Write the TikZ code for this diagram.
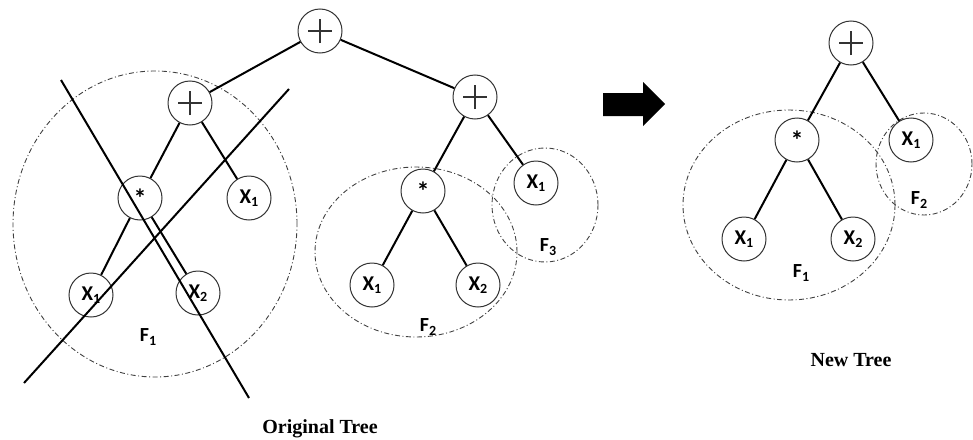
\documentclass[tikz,border=0pt]{standalone}
\usepackage{fontspec}
\setmainfont{Liberation Serif}
\newfontfamily\lblfont{Carlito}
\newcommand\sym[2]{#1\raisebox{-0.35ex}{\fontsize{14}{14}\selectfont #2}}
\newcommand\mul{{\fontsize{26}{26}\selectfont\raisebox{-0.25ex}{*}}}
\tikzset{
  tnode/.style={circle, draw=black!80, line width=1pt, minimum size=44pt,
    inner sep=0pt, fill=white, font=\lblfont\bfseries\fontsize{21}{21}\selectfont},
  plusnode/.style={tnode, path picture={
    \draw[line width=1.3pt]
      ([xshift=-12pt]path picture bounding box.center) -- ([xshift=12pt]path picture bounding box.center)
      ([yshift=-12pt]path picture bounding box.center) -- ([yshift=12pt]path picture bounding box.center);}},
  link/.style={line width=2pt},
  cut/.style={line width=2pt},
  forest/.style={draw=black!75, line width=0.9pt,
    dash pattern=on 5pt off 2.5pt on 1pt off 2.5pt},
  flabel/.style={font=\lblfont\bfseries\fontsize{20}{20}\selectfont},
  caption/.style={font=\bfseries\fontsize{20}{20}\selectfont}
}
\begin{document}
\begin{tikzpicture}[x=1pt,y=-1pt]
\useasboundingbox (0,0) rectangle (973,439);

% ---------- original tree ----------
\draw[forest] (155,224) ellipse [x radius=142pt, y radius=153pt];
\draw[forest] (416,252) ellipse [x radius=101pt, y radius=85pt];
\draw[forest] (545,205) ellipse [x radius=53pt, y radius=57pt];

\node[plusnode] (root) at (320,31) {};
\node[plusnode] (lp) at (190,103) {};
\node[plusnode] (rp) at (475,97) {};
\node[tnode] (lm) at (140,198) {\mul};
\node[tnode] (lx1) at (249,198) {\sym{X}{1}};
\node[tnode] (lx1b) at (91,295) {\sym{X}{1}};
\node[tnode] (lx2) at (198,293) {\sym{X}{2}};
\node[tnode] (rm) at (423,191) {\mul};
\node[tnode] (rx1) at (536,183) {\sym{X}{1}};
\node[tnode] (rx1b) at (372,285) {\sym{X}{1}};
\node[tnode] (rx2) at (478,285) {\sym{X}{2}};

\draw[link] (root) -- (lp);
\draw[link] (root) -- (rp);
\draw[link] (lp) -- (lm);
\draw[link] (lp) -- (lx1);
\draw[link] (lm) -- (lx1b);
\draw[link] (lm) -- (lx2);
\draw[link] (rp) -- (rm);
\draw[link] (rp) -- (rx1);
\draw[link] (rm) -- (rx1b);
\draw[link] (rm) -- (rx2);

% the removed subtree is crossed out
\coordinate (c1a) at (61,80);
\coordinate (c1b) at (249,398);
\coordinate (c2a) at (24,383);
\coordinate (c2b) at (289,89);
\draw[cut] (c1a) -- (c1b);
\draw[cut] (c2a) -- (c2b);

\node[flabel] (f1) at (148,337) {\sym{F}{1}};
\node[flabel] (f2) at (428,327) {\sym{F}{2}};
\node[flabel] (f3) at (548,247) {\sym{F}{3}};

\node[caption] (cap1) at (320,429) {Original Tree};

% ---------- transformation arrow ----------
\fill (603,93) -- (643,93) -- (643,82) -- (665,104) -- (643,126) -- (643,116) -- (603,116) -- cycle;

% ---------- new tree ----------
\draw[forest] (789,205) ellipse [x radius=106pt, y radius=95pt];
\draw[forest] (924,164) ellipse [x radius=48pt, y radius=51pt];

\node[plusnode] (np) at (851,43) {};
\node[tnode] (nm) at (797,140) {\mul};
\node[tnode] (nx1) at (911,140) {\sym{X}{1}};
\node[tnode] (nx1b) at (744,239) {\sym{X}{1}};
\node[tnode] (nx2) at (853,239) {\sym{X}{2}};

\draw[link] (np) -- (nm);
\draw[link] (np) -- (nx1);
\draw[link] (nm) -- (nx1b);
\draw[link] (nm) -- (nx2);

\node[flabel] (g1) at (801,273) {\sym{F}{1}};
\node[flabel] (g2) at (919,200) {\sym{F}{2}};

\node[caption] (cap2) at (851,360) {New Tree};
\end{tikzpicture}
\end{document}
